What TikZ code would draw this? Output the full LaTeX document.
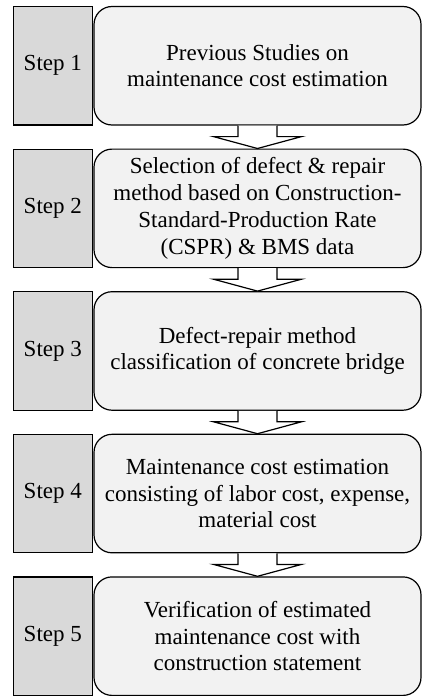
\documentclass[tikz,border=0pt]{standalone}
\usepackage{fontspec}
\setmainfont{Liberation Serif}
\usetikzlibrary{positioning}

\definecolor{stepgray}{HTML}{D9D9D9}
\definecolor{descgray}{HTML}{F2F2F2}
\tikzset{
	stepbox/.style = {draw, line width = 1.2pt, fill = stepgray, minimum width = 79pt, minimum height = 118.5pt, inner sep = 0pt},
	descbox/.style = {draw, line width = 1.2pt, fill = descgray, rounded corners = 18pt, minimum width = 327pt, minimum height = 118.5pt, inner sep = 0pt, align = center},
	blockarrow/.style = {line width = 1.2pt, fill = white, line join = miter},
}

\begin{document}
\begin{tikzpicture}[font = \fontsize{23pt}{26.7pt}\selectfont]
	\useasboundingbox (0, 0) rectangle (422pt, -696pt);
%%%%%%%%%%%
	\node[descbox] (desc1) at (257.5pt, -65.75pt) {Previous Studies on\\maintenance cost estimation};
	\node[descbox] (desc2) at (257.5pt, -208.35pt) {Selection of defect \& repair\\method based on Construction-\\Standard-Production Rate\\(CSPR) \& BMS data};
	\node[descbox] (desc3) at (257.5pt, -350.95pt) {Defect-repair method\\classification of concrete bridge};
	\node[descbox] (desc4) at (257.5pt, -493.55pt) {Maintenance cost estimation\\consisting of labor cost, expense,\\material cost};
	\node[descbox] (desc5) at (257.5pt, -636.15pt) {Verification of estimated\\maintenance cost with\\construction statement};
%%%%%%%%%%%
	\node[stepbox, left = 0.5pt of desc1] (step1) {Step 1};
	\node[stepbox, left = 0.5pt of desc2] (step2) {Step 2};
	\node[stepbox, left = 0.5pt of desc3] (step3) {Step 3};
	\node[stepbox, left = 0.5pt of desc4] (step4) {Step 4};
	\node[stepbox, left = 0.5pt of desc5] (step5) {Step 5};
%%%%%%%%%%%
	\foreach \i [evaluate = \i as \j using int(\i + 1)] in {1, ..., 4}
		\draw[blockarrow] ([xshift = -19.5pt]desc\i.south) -- ++(0, -11pt) coordinate (shaft\i)
			-- ++(-24.5pt, 0) -- (desc\j.north) -- ([xshift = 63.5pt]shaft\i)
			-- ++(-24.5pt, 0) -- ([xshift = 19.5pt]desc\i.south);
\end{tikzpicture}
\end{document}
